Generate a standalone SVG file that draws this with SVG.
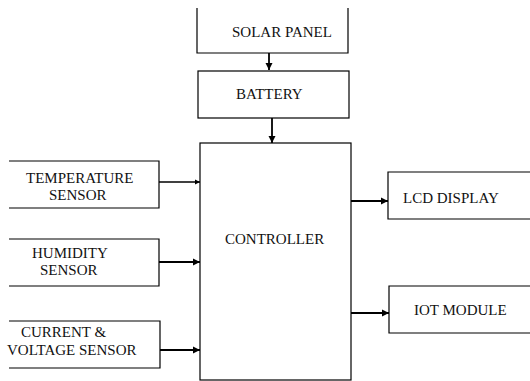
<svg xmlns="http://www.w3.org/2000/svg" width="530" height="381" viewBox="0 0 530 381">
<style>
.box{fill:none;stroke:#000;stroke-width:1.2}
.lbl{font-family:'Liberation Serif','Times New Roman','DejaVu Serif',serif;font-size:15px;fill:#111}
.con{stroke:#000;stroke-width:1.8;fill:none}
</style>
<defs>
<marker id="ah" viewBox="0 0 8 8" refX="8" refY="4" markerWidth="4" markerHeight="4" orient="auto" markerUnits="strokeWidth">
<path d="M0,0 L8,4 L0,8 z" fill="#000"/>
</marker>
</defs>
<rect width="530" height="381" fill="#fff"/>
<g id="solar">
<path class="box" d="M197,8 V53 H348 V8"/>
<text class="lbl" x="232" y="37" font-family="Liberation Serif">SOLAR PANEL</text>
</g>
<g id="battery">
<rect class="box" x="198" y="71" width="151" height="47"/>
<text class="lbl" x="236" y="99">BATTERY</text>
</g>
<g id="controller">
<rect class="box" x="200" y="143" width="151" height="237"/>
<text class="lbl" x="225" y="244">CONTROLLER</text>
</g>
<g id="temperature">
<path class="box" d="M9,161 H159 V208 H9"/>
<text class="lbl" x="26" y="183">TEMPERATURE</text>
<text class="lbl" x="49" y="200">SENSOR</text>
</g>
<g id="humidity">
<path class="box" d="M9,239 H159 V286 H9"/>
<text class="lbl" x="32" y="258">HUMIDITY</text>
<text class="lbl" x="40" y="275">SENSOR</text>
</g>
<g id="current">
<path class="box" d="M9,321 H160 V368 H9"/>
<text class="lbl" x="21" y="337">CURRENT &amp;</text>
<text class="lbl" x="7" y="355">VOLTAGE SENSOR</text>
</g>
<g id="lcd">
<path class="box" d="M531,172 H388 V219 H531"/>
<text class="lbl" x="403" y="203">LCD DISPLAY</text>
</g>
<g id="iot">
<path class="box" d="M531,286 H389 V333 H531"/>
<text class="lbl" x="414" y="315">IOT MODULE</text>
</g>
<g id="connectors">
<line class="con" x1="269" y1="53" x2="269" y2="70" marker-end="url(#ah)"/>
<line class="con" x1="272" y1="118" x2="272" y2="143" marker-end="url(#ah)"/>
<line class="con" style="stroke-width:1.3" x1="159" y1="182" x2="200" y2="182" marker-end="url(#ah)"/>
<line class="con" x1="159" y1="262" x2="200" y2="262" marker-end="url(#ah)"/>
<line class="con" x1="160" y1="350" x2="200" y2="350" marker-end="url(#ah)"/>
<line class="con" x1="351" y1="201" x2="388" y2="201" marker-end="url(#ah)"/>
<line class="con" x1="351" y1="313" x2="389" y2="313" marker-end="url(#ah)"/>
</g>
</svg>
